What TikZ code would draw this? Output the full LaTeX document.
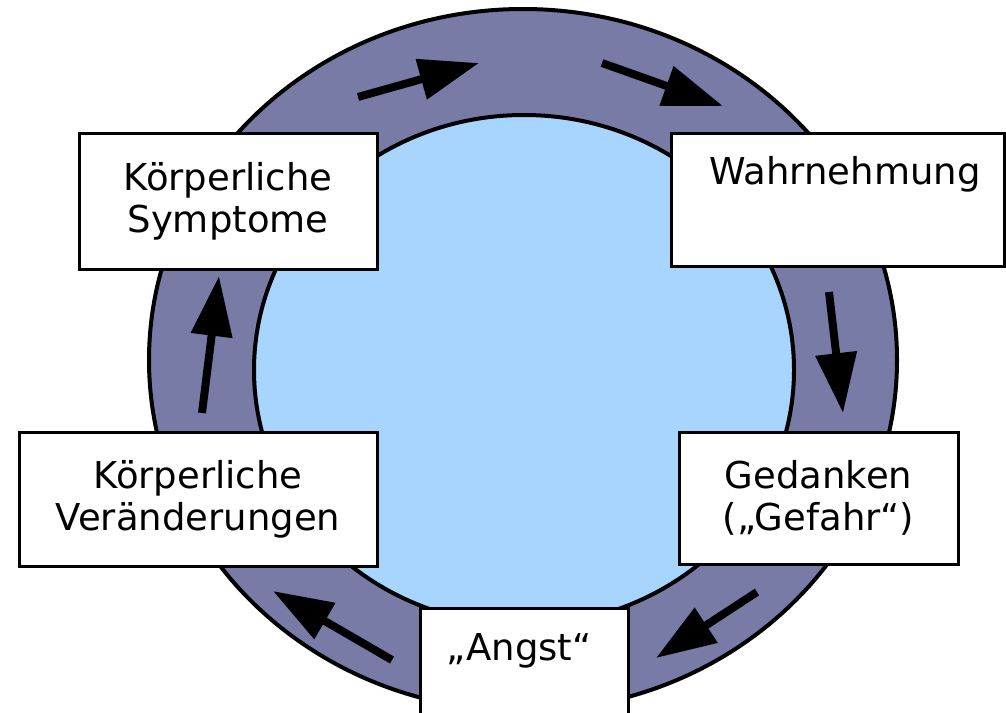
\documentclass[tikz,border=0pt]{standalone}
\usepackage{fontspec}
\setmainfont{DejaVu Sans}
\usetikzlibrary{arrows.meta}
\definecolor{ringfill}{RGB}{121,123,167}
\definecolor{corefill}{RGB}{168,213,254}
\begin{document}
\begin{tikzpicture}[x=1pt,y=-1pt,
  box/.style={draw=black, line width=3pt, fill=white, inner sep=0pt, align=center,
    font=\fontsize{37}{42}\selectfont},
  lbl/.style={inner sep=0pt, align=center, font=\fontsize{37}{42}\selectfont},
  flow/.style={line width=8pt, -{Triangle[length=60pt,width=40pt]}}]
\useasboundingbox (0,0) rectangle (1006,712);
\clip (0,0) rectangle (1006,712);
% ring
\draw[fill=ringfill, line width=4pt] (523,360) ellipse [x radius=374pt, y radius=351pt];
\draw[fill=corefill, line width=4pt] (524,370) ellipse [x radius=270pt, y radius=255pt];
% arrow end points
\coordinate (a1s) at (358,97);  \coordinate (a1e) at (479,63);
\coordinate (a2s) at (602,63);  \coordinate (a2e) at (723,106);
\coordinate (a3s) at (829,292); \coordinate (a3e) at (843,413);
\coordinate (a4s) at (757,592); \coordinate (a4e) at (656,658);
\coordinate (a5s) at (392,660); \coordinate (a5e) at (273,591);
\coordinate (a6s) at (202,413); \coordinate (a6e) at (219,276);
\draw[flow] (a1s) -- (a1e);
\draw[flow] (a2s) -- (a2e);
\draw[flow] (a3s) -- (a3e);
\draw[flow] (a4s) -- (a4e);
\draw[flow] (a5s) -- (a5e);
\draw[flow] (a6s) -- (a6e);
% boxes
\node[box, minimum width=298pt, minimum height=136pt] (sym) at (228,201) {Körperliche\\Symptome};
\node[box, minimum width=333pt, minimum height=133pt] (wahr) at (837.5,199.5) {};
\node[lbl, anchor=base] (wahrtxt) at (845,184) {Wahrnehmung};
\node[box, minimum width=279pt, minimum height=132pt] (ged) at (818.5,498) {Gedanken\\(„Gefahr“)};
\node[box, minimum width=358pt, minimum height=134pt] (ver) at (198,499) {Körperliche\\Veränderungen};
\node[box, minimum width=208pt, minimum height=152pt] (angst) at (524,684) {};
\node[lbl, anchor=base] (angsttxt) at (519,660) {„Angst“};
\end{tikzpicture}
\end{document}
